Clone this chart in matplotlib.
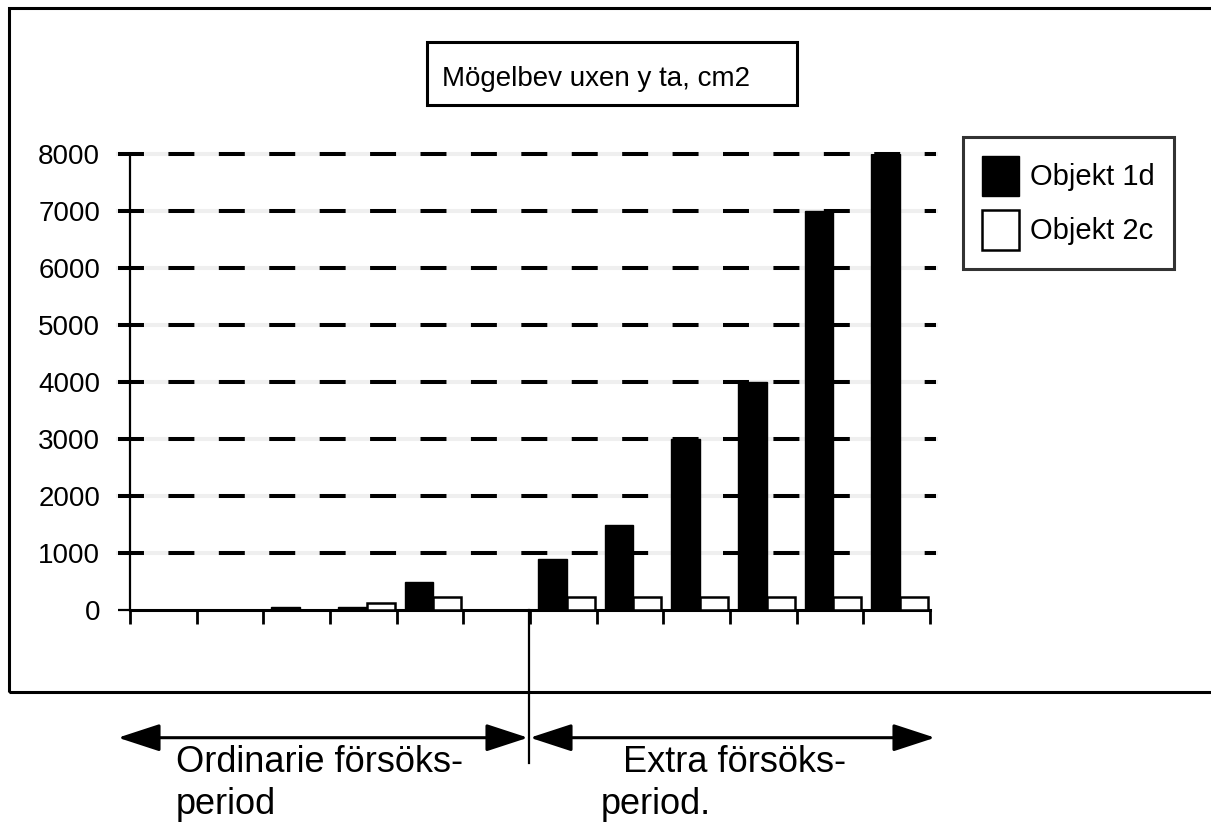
import matplotlib

matplotlib.use("Agg")
import matplotlib.pyplot as plt
import numpy as np
from matplotlib.lines import Line2D
from matplotlib.patches import ArrowStyle, FancyArrowPatch, Rectangle

plt.rcParams["font.family"] = ["Liberation Sans", "DejaVu Sans"]
plt.rcParams["lines.scale_dashes"] = False

# mould-covered area (cm2) per test occasion, 12 occasions
objekt_1d = [0, 0, 60, 60, 500, 0, 900, 1500, 3000, 4000, 7000, 8000]
objekt_2c = [0, 0, 0, 120, 220, 0, 220, 220, 220, 220, 220, 220]
series_labels = ["Objekt 1d", "Objekt 2c"]
y_ticks = [0, 1000, 2000, 3000, 4000, 5000, 6000, 7000, 8000]
title = "Mögelbev uxen y ta, cm2"

W, H = 1211, 825


def fx(x):
    return x / W


def fy(y):
    return 1 - y / H


fig = plt.figure(figsize=(W / 100, H / 100), dpi=100)
ax = fig.add_axes([fx(130), fy(610), 800 / W, 456 / H])

pos = np.arange(len(objekt_1d))
b1 = ax.bar(pos + 0.12, objekt_1d, width=0.43, align="edge", color="black",
            edgecolor="black", lw=1, zorder=3)
b2 = ax.bar(pos + 0.55, objekt_2c, width=0.42, align="edge", color="white",
            edgecolor="black", lw=1.8, zorder=3)

# dashed gridlines (with a faint grey line underneath, as in the original)
for y in y_ticks[1:]:
    ax.plot([-0.18, 12.09], [y, y], color="#efefef", lw=2.9, clip_on=False, zorder=1.5)
    ax.plot([-0.18, 12.09], [y, y], color="black", lw=2.9, ls=(0, (18.7, 17.6)),
            clip_on=False, zorder=2)

ax.set_xlim(0, 12)
ax.set_ylim(0, 8000)
ax.set_xticks(range(13))
ax.set_xticklabels([])
ax.set_yticks(y_ticks)
ax.tick_params(axis="x", direction="out", length=10, width=2.0, color="black")
ax.tick_params(axis="y", direction="out", length=8.6, width=1.6, labelsize=20, pad=13)
for s in ("top", "right"):
    ax.spines[s].set_visible(False)
ax.spines["left"].set_linewidth(1.6)
ax.spines["bottom"].set_linewidth(2.2)
ax.set_facecolor("none")

leg = fig.legend([b1, b2], series_labels, loc="upper left",
                 bbox_to_anchor=(fx(963), fy(137)), bbox_transform=fig.transFigure,
                 fontsize=21, frameon=True, fancybox=False, edgecolor="black",
                 borderpad=0.64, labelspacing=0.49, handlelength=1.27,
                 handleheight=1.73, handletextpad=0.4, borderaxespad=0)
leg.get_frame().set_linewidth(2.2)

# title box
fig.add_artist(Rectangle((fx(427), fy(105)), fx(797) - fx(427), fy(42) - fy(105),
                         transform=fig.transFigure, fill=False, lw=2.2, color="black"))
fig.text(fx(442), fy(86), title, fontsize=20, va="baseline", ha="left")

# outer frame
fig.add_artist(Rectangle((fx(9), fy(692)), fx(1216) - fx(9), fy(8) - fy(692),
                         transform=fig.transFigure, fill=False, lw=2.2, color="black",
                         clip_on=False))

# period arrows and separator
style = ArrowStyle("<|-|>", head_length=26, head_width=8.5)
for x0, x1 in ((118, 528), (530, 935)):
    fig.add_artist(FancyArrowPatch((fx(x0), fy(737.7)), (fx(x1), fy(737.7)),
                                   transform=fig.transFigure, arrowstyle=style,
                                   mutation_scale=1, lw=2.2, color="black",
                                   shrinkA=0, shrinkB=0))
fig.add_artist(Line2D([fx(529), fx(529)], [fy(610), fy(763)],
                      transform=fig.transFigure, lw=1.6, color="black"))

fig.text(fx(176), fy(771.7), "Ordinarie försöks-", fontsize=26, va="baseline")
fig.text(fx(176), fy(814), "period", fontsize=26, va="baseline")
fig.text(fx(623), fy(771.7), "Extra försöks-", fontsize=26, va="baseline")
fig.text(fx(601), fy(814), "period.", fontsize=26, va="baseline")

fig.savefig("out.png", dpi=100)
